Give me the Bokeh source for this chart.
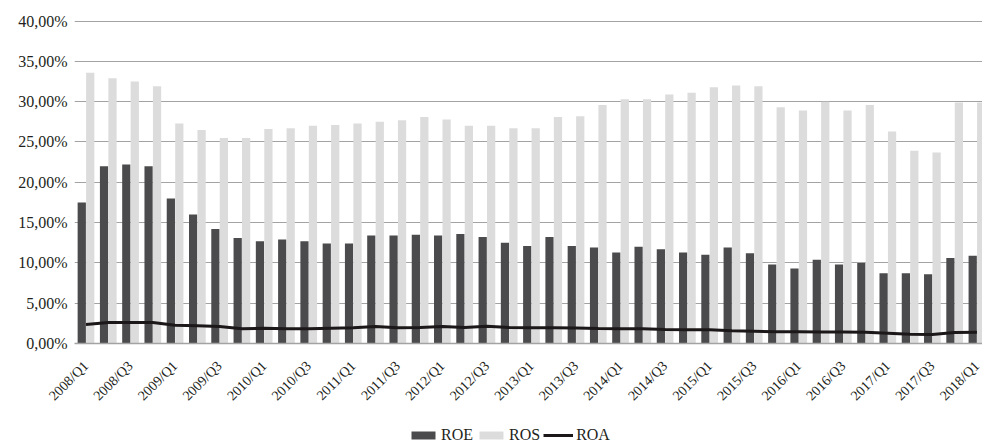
from bokeh.plotting import figure
from bokeh.layouts import column
from bokeh.models import Range1d, FixedTicker, Legend, LegendItem, ColumnDataSource
from bokeh.transform import dodge
from bokeh.embed import file_html
from bokeh.resources import INLINE

quarters = ["2008/Q1", "2008/Q2", "2008/Q3", "2008/Q4", "2009/Q1", "2009/Q2", "2009/Q3", "2009/Q4",
            "2010/Q1", "2010/Q2", "2010/Q3", "2010/Q4", "2011/Q1", "2011/Q2", "2011/Q3", "2011/Q4",
            "2012/Q1", "2012/Q2", "2012/Q3", "2012/Q4", "2013/Q1", "2013/Q2", "2013/Q3", "2013/Q4",
            "2014/Q1", "2014/Q2", "2014/Q3", "2014/Q4", "2015/Q1", "2015/Q2", "2015/Q3", "2015/Q4",
            "2016/Q1", "2016/Q2", "2016/Q3", "2016/Q4", "2017/Q1", "2017/Q2", "2017/Q3", "2017/Q4",
            "2018/Q1"]

roe = [17.5, 22.0, 22.2, 22.0, 18.0, 16.0, 14.2, 13.1, 12.7, 12.9, 12.7, 12.4, 12.4, 13.4,
       13.4, 13.5, 13.4, 13.6, 13.2, 12.5, 12.1, 13.2, 12.1, 11.9, 11.3, 12.0, 11.7, 11.3,
       11.0, 11.9, 11.2, 9.8, 9.3, 10.4, 9.8, 10.0, 8.7, 8.7, 8.6, 10.6, 10.9]

ros = [33.6, 32.9, 32.5, 31.9, 27.3, 26.5, 25.5, 25.5, 26.6, 26.7, 27.0, 27.1, 27.3, 27.5,
       27.7, 28.1, 27.8, 27.0, 27.0, 26.7, 26.7, 28.1, 28.2, 29.6, 30.3, 30.3, 30.9, 31.1,
       31.8, 32.0, 31.9, 29.3, 28.9, 30.0, 28.9, 29.6, 26.3, 23.9, 23.7, 29.9, 29.9]

roa = [2.36, 2.6, 2.6, 2.6, 2.27, 2.2, 2.1, 1.82, 1.9, 1.82, 1.82, 1.9, 1.95, 2.1, 1.95,
       2.0, 2.1, 2.0, 2.15, 2.0, 1.95, 1.95, 1.93, 1.86, 1.82, 1.82, 1.74, 1.7, 1.7, 1.57,
       1.53, 1.45, 1.45, 1.43, 1.43, 1.4, 1.28, 1.15, 1.12, 1.35, 1.4]

series_names = ["ROE", "ROS", "ROA"]

y_ticks = [0, 5, 10, 15, 20, 25, 30, 35, 40]
y_tick_labels = ["0,00%", "5,00%", "10,00%", "15,00%", "20,00%", "25,00%", "30,00%", "35,00%", "40,00%"]

x_pos = list(range(len(quarters)))
src = ColumnDataSource(dict(x=x_pos, roe=roe, ros=ros, roa=roa, q=quarters))

FONT = "Liberation Serif"
TXT = "#231f20"
C_ROE = "#4b4b4d"
C_ROS = "#dcdcdd"
C_ROA = "#1c1819"

p = figure(width=982, height=412, output_backend="svg", toolbar_location=None,
           x_range=Range1d(-0.516, 40.25), y_range=Range1d(0, 40.32),
           min_border_left=74, min_border_right=0, min_border_top=18, min_border_bottom=69)
p.outline_line_color = None
p.background_fill_color = "white"
p.border_fill_color = "white"

p.vbar(x=dodge("x", -0.19), top="roe", width=0.37, source=src, fill_color=C_ROE, line_color=None)
p.vbar(x=dodge("x", 0.19), top="ros", width=0.37, source=src, fill_color=C_ROS, line_color=None)
p.line(x="x", y="roa", source=src, line_color=C_ROA, line_width=3)

# grid
p.xgrid.grid_line_color = None
p.ygrid.ticker = FixedTicker(ticks=y_ticks)
p.ygrid.grid_line_color = "#a3a3a3"
p.ygrid.grid_line_width = 1

# y axis
p.yaxis.ticker = FixedTicker(ticks=y_ticks)
p.yaxis.major_label_overrides = {t: l for t, l in zip(y_ticks, y_tick_labels)}
p.yaxis.axis_line_color = None
p.yaxis.major_tick_line_color = None
p.yaxis.minor_tick_line_color = None
p.yaxis.major_tick_out = 0
p.yaxis.major_label_standoff = 7
p.yaxis.major_label_text_font = FONT
p.yaxis.major_label_text_font_size = "16px"
p.yaxis.major_label_text_color = TXT

# x axis
xt = x_pos[::2]
p.xaxis.ticker = FixedTicker(ticks=xt)
p.xaxis.major_label_overrides = {i: quarters[i] for i in xt}
p.xaxis.major_label_orientation = 0.785398
p.xaxis.axis_line_color = "#a3a3a3"
p.xaxis.axis_line_width = 1.5
p.xaxis.major_tick_line_color = None
p.xaxis.minor_tick_line_color = None
p.xaxis.major_tick_out = 0
p.xaxis.major_label_standoff = 20
p.xaxis.major_label_text_font = FONT
p.xaxis.major_label_text_font_size = "14px"
p.xaxis.major_label_text_color = TXT

# legend strip (its frame is aligned with the chart frame by the column layout)
lg = figure(width=982, height=32, output_backend="svg", toolbar_location=None,
            x_range=Range1d(0, 1), y_range=Range1d(0, 1), x_axis_type=None, y_axis_type=None,
            min_border_left=74, min_border_right=0, min_border_top=0, min_border_bottom=0)
lg.outline_line_color = None
lg.background_fill_color = None
lg.border_fill_color = None
lg.xgrid.visible = False
lg.ygrid.visible = False
# legend keys: zero-size glyphs, so only their legend swatches show
k1 = lg.vbar(x=[0.5], top=[0], bottom=[0], width=0, fill_color=C_ROE, line_color=None)
k2 = lg.vbar(x=[0.5], top=[0], bottom=[0], width=0, fill_color=C_ROS, line_color=None)
k3 = lg.line(x=[0.5], y=[0.5], line_color=C_ROA, line_width=3)
legend = Legend(items=[LegendItem(label=n, renderers=[r]) for n, r in zip(series_names, [k1, k2, k3])],
                orientation="horizontal", location=(334, 0),
                glyph_width=30, glyph_height=10, label_standoff=3, spacing=3,
                padding=0, margin=0, border_line_color=None, background_fill_alpha=0,
                label_text_font=FONT, label_text_font_size="16px", label_text_color=TXT)
lg.add_layout(legend)

layout = column(p, lg, spacing=0)
open("out.html", "w").write(file_html(layout, INLINE))
